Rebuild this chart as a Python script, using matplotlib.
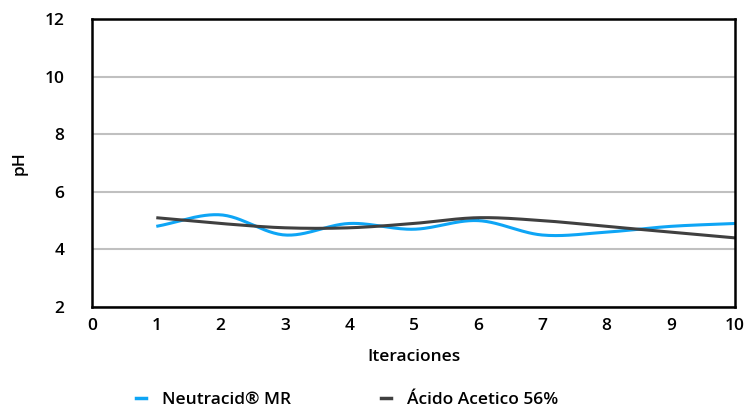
import numpy as np
import matplotlib
matplotlib.use("Agg")
import matplotlib.pyplot as plt
from matplotlib.lines import Line2D

iterations = [1, 2, 3, 4, 5, 6, 7, 8, 9, 10]
neutracid = [4.8, 5.2, 4.5, 4.9, 4.7, 5.0, 4.5, 4.6, 4.8, 4.9]
acido = [5.1, 4.9, 4.75, 4.75, 4.9, 5.1, 5.0, 4.8, 4.6, 4.4]
series_names = ["Neutracid® MR", "Ácido Acetico 56%"]
colors = ["#0ea5f5", "#404040"]

plt.rcParams['font.family'] = ['Open Sans', 'DejaVu Sans']
FS = 12.5
W = 'semibold'


def smooth(x, y, n=30):
    # Catmull-Rom spline through the data points (drawing only)
    x = np.asarray(x, float)
    y = np.asarray(y, float)
    px = np.concatenate([[2 * x[0] - x[1]], x, [2 * x[-1] - x[-2]]])
    py = np.concatenate([[2 * y[0] - y[1]], y, [2 * y[-1] - y[-2]]])
    xs, ys = [], []
    t = np.linspace(0, 1, n)
    for i in range(1, len(px) - 2):
        for arr, out in ((px, xs), (py, ys)):
            p0, p1, p2, p3 = arr[i - 1], arr[i], arr[i + 1], arr[i + 2]
            out.extend(0.5 * ((2 * p1) + (-p0 + p2) * t
                              + (2 * p0 - 5 * p1 + 4 * p2 - p3) * t ** 2
                              + (-p0 + 3 * p1 - 3 * p2 + p3) * t ** 3))
    return np.array(xs), np.array(ys)


fig = plt.figure(figsize=(7.46, 4.07), dpi=100)
ax = fig.add_axes([0.1233, 0.2457, 0.862, 0.7076])

for vals, c in zip([neutracid, acido], colors):
    sx, sy = smooth(iterations, vals)
    ax.plot(sx, sy, color=c, lw=2.2, solid_capstyle='butt')

ax.set_xlim(0, 10)
ax.set_ylim(2, 12)
ax.set_xticks(range(0, 11))
ax.set_yticks(range(2, 13, 2))
ax.grid(axis='y', color='#c0c0c0', lw=1.5)
ax.set_axisbelow(True)
for s in ax.spines.values():
    s.set_color('black')
    s.set_linewidth(1.8)
ax.tick_params(length=0, labelsize=FS)
for lab in ax.get_xticklabels() + ax.get_yticklabels():
    lab.set_fontweight(W)
ax.tick_params(axis='y', pad=20)
ax.tick_params(axis='x', pad=8)
ax.set_xlabel("Iteraciones", fontsize=FS, fontweight=W, labelpad=11)
ax.set_ylabel("pH", fontsize=FS, fontweight=W, labelpad=12)

handles = [Line2D([0], [0], color=c, lw=2.5) for c in colors]
fig.legend(handles, series_names, loc='lower center', bbox_to_anchor=(0.465, -0.04),
           ncol=2, frameon=False, handlelength=0.6, handletextpad=0.9, columnspacing=5.2,
           prop={'size': FS, 'weight': W})

fig.savefig("out.png", dpi=100)
